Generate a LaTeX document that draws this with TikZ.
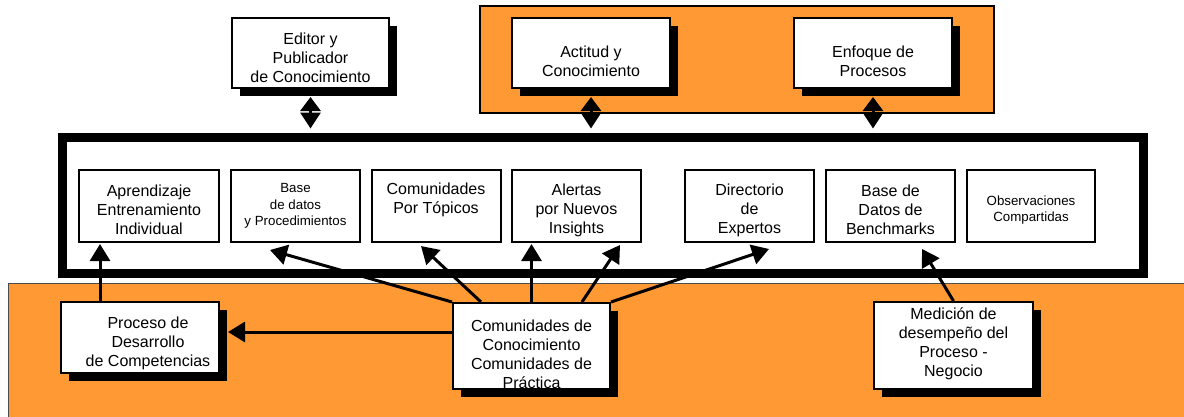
\documentclass[tikz,border=0pt]{standalone}
\usepackage{fontspec}
\setmainfont{Liberation Sans}
\usetikzlibrary{arrows.meta,shadows,calc}
\definecolor{orng}{RGB}{255,153,51}
\begin{document}
\begin{tikzpicture}[x=1pt,y=-1pt,
  box/.style={draw=black, fill=white, line width=2pt, inner sep=0pt},
  sbox/.style={box, general shadow={fill=black, shadow xshift=8pt, shadow yshift=-8pt}},
  ibox/.style={box, minimum width=129pt, minimum height=72pt},
  txt/.style={inner sep=0pt, align=center, font=\fontsize{16}{19}\selectfont},
  smalltxt/.style={txt, font=\fontsize{13.3}{16.5}\selectfont},
  arr/.style={line width=3pt, -{Triangle[length=17pt,width=20pt]}},
  darr/.style={line width=3pt, {Triangle[length=14pt,width=20pt]}-{Triangle[length=16pt,width=20pt]}},
  panel/.style={fill=orng, draw=black, line width=1.2pt}
]
\useasboundingbox (0,0) rectangle (1184,416);
\fill[white] (0,0) rectangle (1184,416);
% orange panels
\draw[panel, draw=black!70, line width=1pt] (8,283) rectangle (1195,425);
\draw[panel] (480,6) rectangle (994,113);
% main thick frame
\node[draw=black, fill=white, line width=9pt, inner sep=0pt, minimum width=1081pt, minimum height=135.5pt] (main) at (603,205.25) {};
\coordinate (mtop) at ($(main.north)+(0,-4.5)$);
% top boxes
\node[sbox, minimum width=157pt, minimum height=70pt] (ed) at (310.5,53) {};
\node[txt] (ed-t) at ($(ed)+(0,5)$) {Editor y\\Publicador\\de Conocimiento};
\node[sbox, minimum width=158pt, minimum height=70pt] (act) at (591,53) {};
\node[txt] (act-t) at ($(act)+(0,8.5)$) {Actitud y\\Conocimiento};
\node[sbox, minimum width=158pt, minimum height=70pt] (enf) at (873,53) {};
\node[txt] (enf-t) at ($(enf)+(0,8.5)$) {Enfoque de\\Procesos};
% inner boxes
\node[ibox, minimum width=140pt] (apr) at (149,206) {};
\node[txt] (apr-t) at ($(apr)+(0,4)$) {Aprendizaje\\Entrenamiento\\Individual};
\node[ibox] (bd) at (295.5,206) {};
\node[smalltxt] (bd-t) at ($(bd)+(0,0)$) {Base\\de datos\\y Procedimientos};
\node[ibox] (top) at (436,206) {};
\node[txt] (top-t) at ($(top)+(0,-6)$) {Comunidades\\Por Tópicos};
\node[ibox] (ale) at (576.5,206) {};
\node[txt] (ale-t) at ($(ale)+(0,4)$) {Alertas\\por Nuevos\\Insights};
\node[ibox] (dir) at (749.5,206) {};
\node[txt] (dir-t) at ($(dir)+(0,4)$) {Directorio\\de\\Expertos};
\node[ibox] (ben) at (890.5,206) {};
\node[txt] (ben-t) at ($(ben)+(0,4)$) {Base de\\Datos de\\Benchmarks};
\node[ibox, minimum width=128pt] (obs) at (1031,206) {};
\node[smalltxt] (obs-t) at ($(obs)+(0,4)$) {Observaciones\\Compartidas};
% double arrows to top boxes
\draw[darr] ($(ed.south)+(0,8)$) -- (ed.south |- mtop);
\draw[darr] ($(act.south)+(0,8)$) -- (act.south |- mtop);
\draw[darr] ($(enf.south)+(0,8)$) -- (enf.south |- mtop);
% bottom boxes
\node[sbox, minimum width=158pt, minimum height=71pt] (pro) at (140,337.5) {};
\node[txt] (pro-t) at ($(pro)+(8,5.5)$) {Proceso de\\Desarrollo\\de Competencias};
\node[sbox, minimum width=157pt, minimum height=86pt] (com) at (531.5,346) {};
\node[txt] (com-t) at ($(com)+(0,8.5)$) {Comunidades de\\Conocimiento\\Comunidades de\\Práctica};
\node[sbox, minimum width=159pt, minimum height=87pt] (med) at (953.5,345.5) {};
\node[txt] (med-t) at ($(med)+(0,-1.5)$) {Medición de\\desempeño del\\Proceso -\\Negocio};
% connectors
\draw[arr] ($(pro.north west)+(40,0)$) -- ($(apr.south west)+(22,1)$);
\coordinate (hs) at ($(com.west)+(0,-14)$);
\draw[arr] (hs) -- ($(hs -| pro.east)+(8,0)$);
\draw[arr] (com.north west) -- ($(bd.south)+(-25.5,7)$);
\draw[arr] ($(com.north west)+(29,0)$) -- ($(top.south)+(-15,3)$);
\draw[arr] (com.north) -- ($(com.north |- ale.south)+(0,1)$);
\draw[arr] ($(com.north)+(50.5,0)$) -- ($(ale.south)+(43.5,2)$);
\draw[arr] (com.north east) -- ($(dir.south)+(19.5,6)$);
\draw[arr] (med.north) -- ($(ben.south)+(31.5,6)$);
\end{tikzpicture}
\end{document}
